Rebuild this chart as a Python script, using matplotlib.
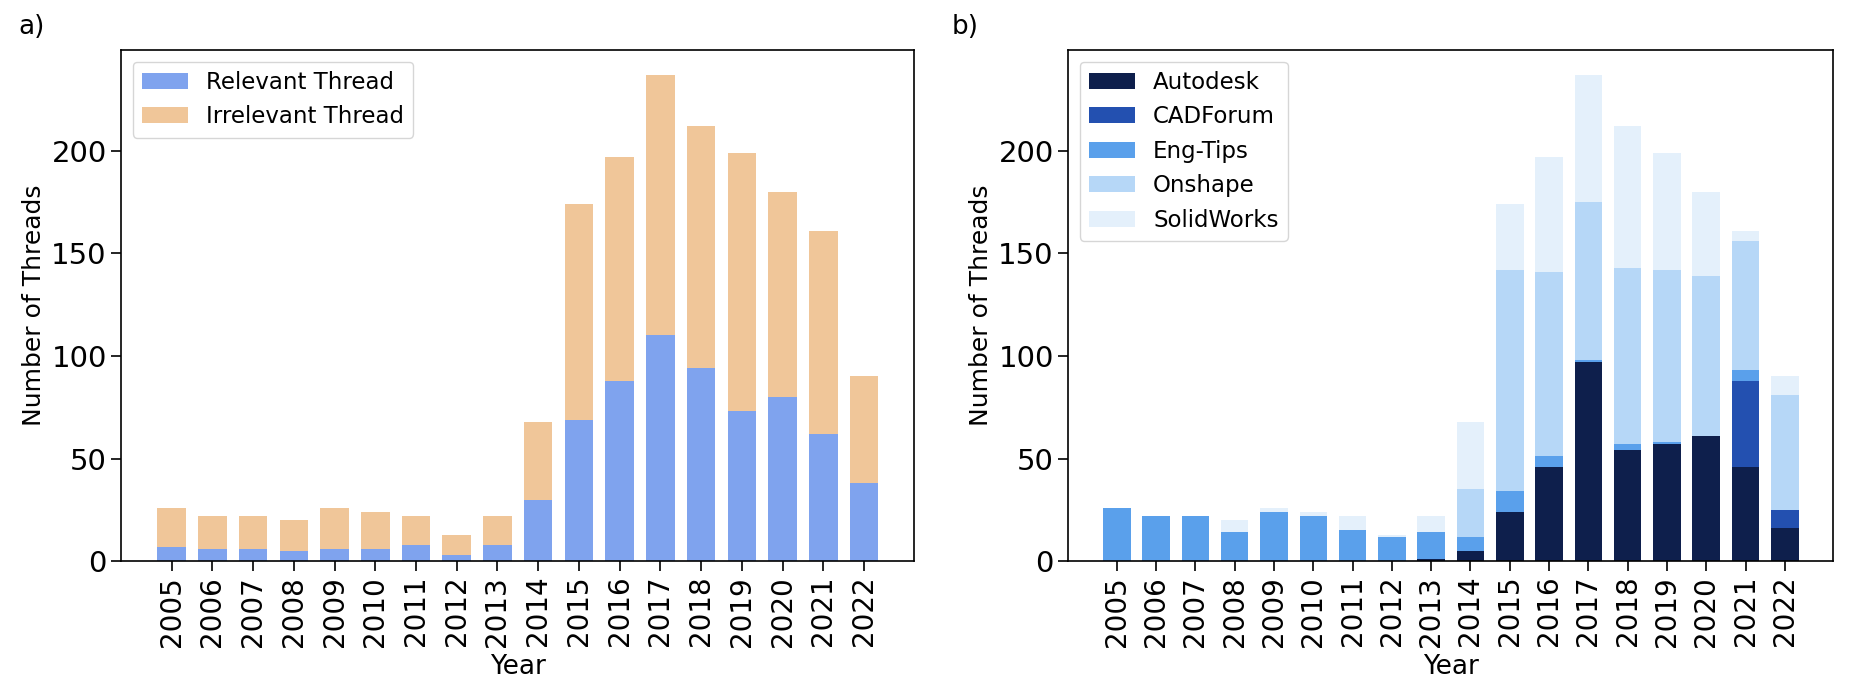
import matplotlib
matplotlib.use("Agg")
import matplotlib.pyplot as plt
import numpy as np

years = [str(y) for y in range(2005, 2023)]

# panel a
relevant = [7, 6, 6, 5, 6, 6, 8, 3, 8, 30, 69, 88, 110, 94, 73, 80, 62, 38]
total = [26, 22, 22, 20, 26, 24, 22, 13, 22, 68, 174, 197, 237, 212, 199, 180, 161, 90]
irrelevant = [t - r for t, r in zip(total, relevant)]

# panel b (per forum)
autodesk = [0, 0, 0, 0, 0, 0, 0, 0, 1, 5, 24, 46, 97, 54, 57, 61, 46, 16]
cadforum = [0, 0, 0, 0, 0, 0, 0, 0, 0, 0, 0, 0, 0, 0, 0, 0, 42, 9]
engtips = [26, 22, 22, 14, 24, 22, 15, 12, 13, 7, 10, 5, 1, 3, 1, 0, 5, 0]
onshape = [0, 0, 0, 0, 0, 0, 0, 0, 0, 23, 108, 90, 77, 86, 84, 78, 63, 56]
solidworks = [0, 0, 0, 6, 2, 2, 7, 1, 8, 33, 32, 56, 62, 69, 57, 41, 5, 9]

forum_names = ["Autodesk", "CADForum", "Eng-Tips", "Onshape", "SolidWorks"]
forum_colors = ["#0e1f4c", "#2350b0", "#5aa0eb", "#b6d7f7", "#e4f0fb"]

plt.rcParams["font.family"] = "DejaVu Sans"

fig = plt.figure(figsize=(18.66, 6.98), dpi=100)
ax1 = fig.add_axes([0.065, 0.196, 0.425, 0.732])
ax2 = fig.add_axes([0.5725, 0.196, 0.41, 0.732])

x = np.arange(len(years))
w = 0.7

ax1.bar(x, relevant, w, color="#7fa3ee", label="Relevant Thread")
ax1.bar(x, irrelevant, w, bottom=relevant, color="#f0c699", label="Irrelevant Thread")

bottom = np.zeros(len(years))
for name, vals, c in zip(forum_names, [autodesk, cadforum, engtips, onshape, solidworks], forum_colors):
    ax2.bar(x, vals, w, bottom=bottom, color=c, label=name)
    bottom += np.array(vals)

for ax in (ax1, ax2):
    ax.set_xticks(x)
    ax.set_xticklabels(years, rotation=90)
    ax.tick_params(axis="y", labelsize=21, length=7, width=1.2)
    ax.tick_params(axis="x", labelsize=20, length=7, width=1.2)
    ax.set_xlabel("Year", fontsize=19, labelpad=5)
    ax.set_ylabel("Number of Threads", fontsize=18)
    ax.set_yticks([0, 50, 100, 150, 200])
    ax.legend(loc="upper left", fontsize=16.5)
    for s in ax.spines.values():
        s.set_linewidth(1.2)

fig.text(0.01, 0.962, "a)", fontsize=19, va="center")
fig.text(0.51, 0.962, "b)", fontsize=19, va="center")

fig.savefig("out.png", dpi=100)
